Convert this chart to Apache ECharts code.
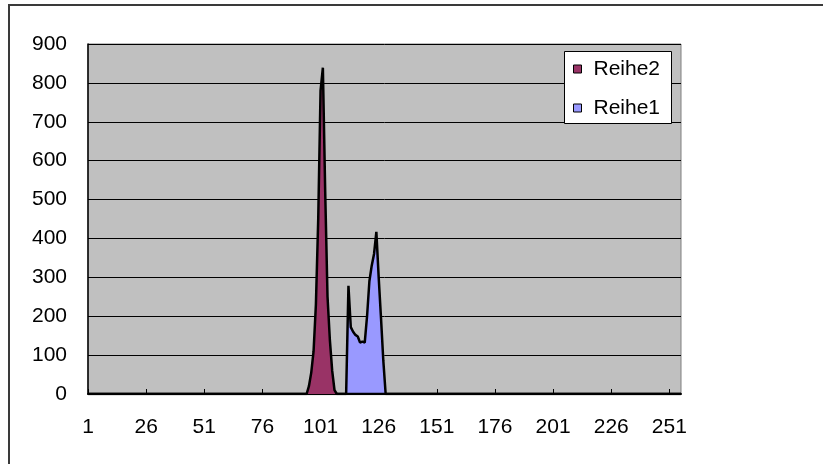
<!DOCTYPE html>
<html>
<head>
<meta charset="utf-8">
<script src="https://cdn.jsdelivr.net/npm/echarts@6/dist/echarts.min.js"></script>
<style>
html,body{margin:0;padding:0;background:#fff;}
#c{width:823px;height:464px;}
</style>
</head>
<body>
<div id="c"></div>
<script>
// Category count (x axis runs 1..256)
var categoryCount = 256;
// Reihe2: non-zero stretch, starting at category 95
var reihe2StartCategory = 95;
var reihe2Values = [0, 20, 55, 110, 230, 450, 780, 839, 520, 250, 140, 60, 10, 0];
// Reihe1: non-zero stretch, starting at category 112
var reihe1StartCategory = 112;
var reihe1Values = [0, 278, 172, 160, 152, 148, 132, 135, 132, 200, 290, 330, 360, 417, 300, 195, 85, 0];
// Y axis ticks
var yMin = 0, yMax = 900, yStep = 100;

var categories = [];
for (var i = 1; i <= categoryCount; i++) categories.push(String(i));

function buildSeries(start, vals) {
  var out = [];
  for (var i = 1; i <= categoryCount; i++) {
    var k = i - start;
    out.push(k >= 0 && k < vals.length ? vals[k] : 0);
  }
  return out;
}

var chart = echarts.init(document.getElementById('c'), null, {renderer: 'canvas'});
var font = 'Arial, "Liberation Sans", sans-serif';
chart.setOption({
  animation: false,
  backgroundColor: '#ffffff',
  graphic: [{
    type: 'rect',
    shape: {x: 9, y: 5, width: 830, height: 480},
    style: {fill: 'none', stroke: '#3a3a3a', lineWidth: 2},
    silent: true, z: 0
  }, {
    type: 'rect',
    shape: {x: 564.5, y: 51.5, width: 107, height: 72},
    style: {fill: '#ffffff', stroke: '#000000', lineWidth: 1},
    silent: true, z: 5
  }],
  grid: {
    left: 88, top: 44, right: 142, bottom: 70,
    show: true, backgroundColor: '#C0C0C0', borderColor: '#808080', borderWidth: 1
  },
  legend: {
    data: ['Reihe2', 'Reihe1'],
    orient: 'vertical',
    left: 573, top: 58,
    padding: 0,
    itemGap: 17,
    itemWidth: 8, itemHeight: 8,
    icon: 'rect',
    z: 10,
    itemStyle: {borderColor: '#000', borderWidth: 1},
    textStyle: {color: '#000', fontSize: 21, lineHeight: 22, fontFamily: font, padding: [0, 0, 0, 7]}
  },
  xAxis: {
    type: 'category',
    data: categories,
    boundaryGap: false,
    axisLine: {lineStyle: {color: '#000', width: 2}},
    axisTick: {inside: true, length: 5, interval: 24, lineStyle: {color: '#000'}},
    axisLabel: {interval: 24, color: '#000', fontSize: 21, fontFamily: font, margin: 23},
    splitLine: {show: false}
  },
  yAxis: {
    type: 'value',
    min: yMin, max: yMax, interval: yStep,
    axisLine: {show: true, lineStyle: {color: '#000', width: 1.5}},
    axisTick: {show: false},
    axisLabel: {color: '#000', fontSize: 21, fontFamily: font, margin: 21},
    splitLine: {lineStyle: {color: '#000', width: 1}}
  },
  series: [
    {
      name: 'Reihe2', type: 'line', data: buildSeries(reihe2StartCategory, reihe2Values),
      symbol: 'none', color: '#993366',
      itemStyle: {color: '#993366'},
      lineStyle: {color: '#000', width: 2.5},
      areaStyle: {color: '#993366', opacity: 1},
      z: 3
    },
    {
      name: 'Reihe1', type: 'line', data: buildSeries(reihe1StartCategory, reihe1Values),
      symbol: 'none', color: '#9999FF',
      itemStyle: {color: '#9999FF'},
      lineStyle: {color: '#000', width: 2.5},
      areaStyle: {color: '#9999FF', opacity: 1},
      z: 2
    }
  ]
});
</script>
</body>
</html>
